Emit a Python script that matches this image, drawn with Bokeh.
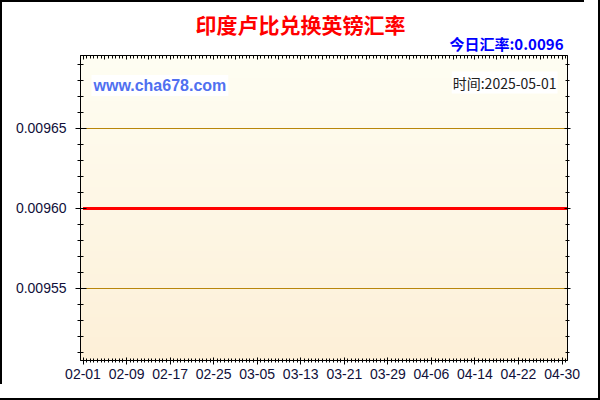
import numpy as np
import pandas as pd
from bokeh.plotting import figure
from bokeh.models import (ColumnDataSource, FixedTicker, LinearAxis, Grid,
                          Label, Title, PrintfTickFormatter, Range1d)
from bokeh.embed import file_html
from bokeh.resources import INLINE

# 印度卢比兑换英镑 汇率 (整段时间都是 0.0096)
dates = ["2025-02-01", "2025-05-01"]
rates = [0.0096, 0.0096]

tick_labels = ["02-01", "02-09", "02-17", "02-25", "03-05", "03-13",
               "03-21", "03-29", "04-06", "04-14", "04-22", "04-30"]
y_ticks = [0.00955, 0.00960, 0.00965]

title_text = "印度卢比兑换英镑汇率"
today_text = "今日汇率:0.0096"
site_text = "www.cha678.com"
time_text = "时间:2025-05-01"

start = pd.Timestamp(dates[0])
days = [(pd.Timestamp(d) - start).days for d in dates]
label_days = [(pd.Timestamp("2025-" + t) - start).days for t in tick_labels]

major_x = list(range(0, label_days[-1] + 1, 4))
minor_x = list(np.arange(0, days[-1] + 0.01, 4 / 6))
minor_y = list(np.round(np.arange(0.00950, 0.00970, 0.00001), 6))

source = ColumnDataSource(data=dict(x=days, y=rates))

cjk = "Noto Sans CJK SC"
tick_font = "Liberation Sans"
tick_color = "#10103a"

p = figure(width=584, height=384, output_backend="svg", toolbar_location=None,
           title=None, x_axis_type=None, y_axis_type=None,
           x_range=Range1d(-0.46, days[-1]), y_range=Range1d(0.009505, 0.0096956))
p.min_border_left = 80
p.min_border_right = 17
p.min_border_top = 55
p.min_border_bottom = 24
p.outline_line_color = "black"
p.border_fill_color = None
p.background_fill_color = "#fef8e6"
# 外框: 左/上用内阴影, 右/下用外描边
p.styles = {"box-shadow": "inset 2px 2px 0 0 black", "background": "white",
            "outline": "2px solid black", "outline-offset": "14px"}

# 背景渐变
n = 120
top_c = np.array([255, 254, 243])
bot_c = np.array([253, 240, 216])
t = np.linspace(0, 1, n)[:, None]
cols = bot_c + (top_c - bot_c) * t
img = np.zeros((n, 1), dtype=np.uint32)
view = img.view(dtype=np.uint8).reshape((n, 1, 4))
view[:, 0, 0:3] = cols.astype(np.uint8)
view[:, 0, 3] = 255
xr, yr = p.x_range, p.y_range
p.image_rgba(image=[img], x=xr.start, y=yr.start, dw=xr.end - xr.start,
             dh=yr.end - yr.start, level="image")

# 下方日期轴: 有标签的为主刻度, 其余为次刻度
xb = LinearAxis(ticker=FixedTicker(ticks=label_days, minor_ticks=minor_x))
xb.major_label_overrides = {d: t for d, t in zip(label_days, tick_labels)}
xb.major_label_text_font = tick_font
xb.major_label_text_font_size = "14px"
xb.major_label_text_color = tick_color
xb.major_label_standoff = 4
xb.major_tick_in = 3
xb.major_tick_out = 4
xb.minor_tick_in = 2
xb.minor_tick_out = 2
p.add_layout(xb, "below")

xt = LinearAxis(ticker=FixedTicker(ticks=major_x, minor_ticks=minor_x))
xt.major_label_text_font_size = "0px"
xt.major_label_text_color = None
xt.major_label_standoff = 0
xt.major_tick_in = 4
xt.major_tick_out = 0
xt.minor_tick_in = 3
xt.minor_tick_out = 0
p.add_layout(xt, "above")

today = Title(text=today_text, align="right", offset=4, standoff=4,
              text_font=cjk, text_font_size="15px", text_font_style="bold",
              text_color="blue")
p.add_layout(today, "above")

main_title = Title(text=title_text, align="left", offset=115, standoff=-21,
                   text_font=cjk, text_font_size="21px", text_font_style="bold",
                   text_color="red")
p.add_layout(main_title, "above")

yl = LinearAxis(ticker=FixedTicker(ticks=y_ticks, minor_ticks=minor_y),
                formatter=PrintfTickFormatter(format="%.5f"))
yl.major_label_text_font = tick_font
yl.major_label_text_font_size = "14px"
yl.major_label_text_color = tick_color
yl.major_label_standoff = 9
yl.major_tick_in = 6
yl.major_tick_out = 5
yl.minor_tick_in = 3
yl.minor_tick_out = 3
p.add_layout(yl, "left")

yr_axis = LinearAxis(ticker=FixedTicker(ticks=y_ticks, minor_ticks=minor_y))
yr_axis.major_label_text_font_size = "0px"
yr_axis.major_label_text_color = None
yr_axis.major_label_standoff = 0
yr_axis.major_tick_in = 3
yr_axis.major_tick_out = 3
yr_axis.minor_tick_in = 2
yr_axis.minor_tick_out = 2
p.add_layout(yr_axis, "right")

p.add_layout(Grid(dimension=1, ticker=FixedTicker(ticks=y_ticks),
                  grid_line_color="#b8860b", grid_line_width=1))

p.line(x='x', y='y', source=source, color='red', line_width=3)

p.add_layout(Label(x=11, y=275, x_units="screen", y_units="screen",
                   text=site_text, text_align="left", text_baseline="middle",
                   text_font=tick_font, text_font_size="16px", text_font_style="bold",
                   text_color="#5070f0", background_fill_color="white",
                   padding=2))
p.add_layout(Label(x=477, y=278, x_units="screen", y_units="screen",
                   text=time_text, text_align="right", text_baseline="middle",
                   text_font=cjk, text_font_size="14px",
                   text_color="#202020", background_fill_color="white",
                   padding=1))

open("out.html", "w").write(file_html(p, INLINE))
